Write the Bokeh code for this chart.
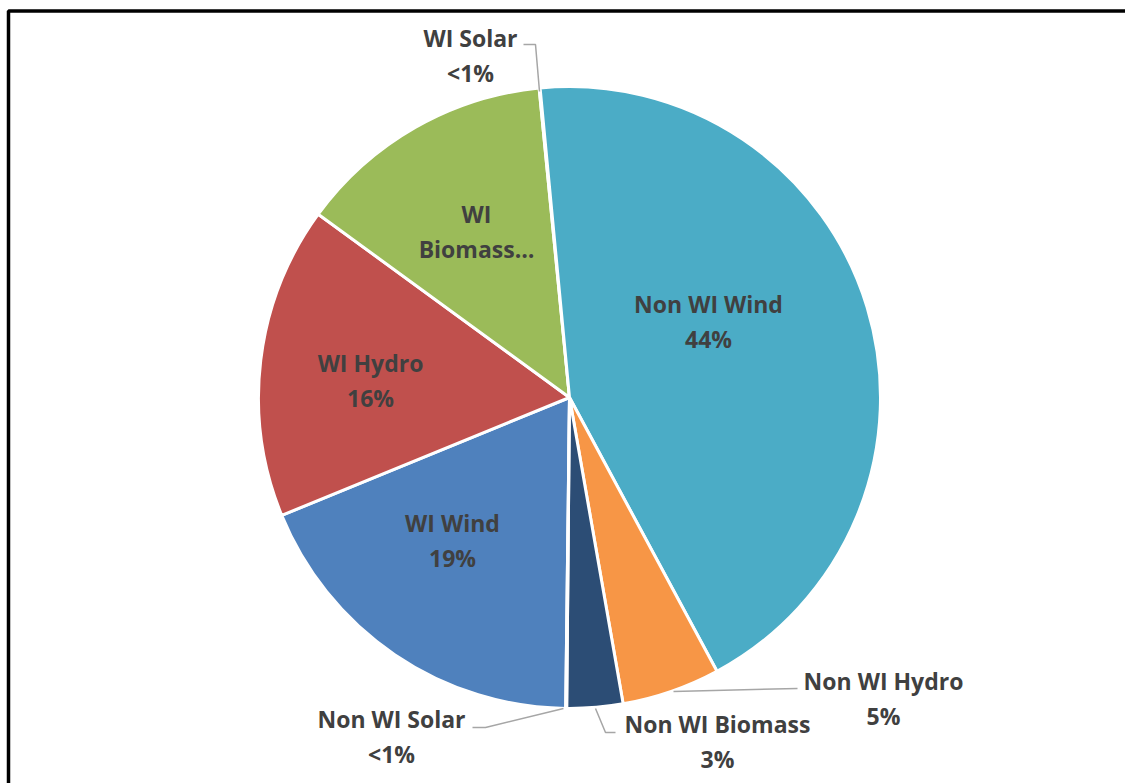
import math
from bokeh.plotting import figure
from bokeh.models import Range1d, ColumnDataSource
from bokeh.core.properties import value
from bokeh.embed import file_html
from bokeh.resources import INLINE

# ---- data (Excel series order) ----
categories = ["WI Wind", "WI Hydro", "WI Biomass", "WI Solar",
              "Non WI Wind", "Non WI Hydro", "Non WI Biomass", "Non WI Solar"]
shares = [18.6, 16.2, 13.4, 0.05, 43.6, 5.1, 2.9, 0.05]
label_names = ["WI Wind", "WI Hydro", "WI\nBiomass…", "WI Solar",
               "Non WI Wind", "Non WI Hydro", "Non WI Biomass", "Non WI Solar"]
colors = ["#4F81BD", "#C0504D", "#9BBB59", "#8064A2",
          "#4BACC6", "#F79646", "#2C4D75", "#772C2A"]

# ---- layout ----
W, H = 1125, 783
CX, CY, R = 569, 397, 311          # pixel coords (y from top)
FIRST_SLICE_ANGLE = 180.7          # degrees clockwise from 12 o'clock

# label centre positions in pixels (x, y from top)
label_pos = {
    "WI Wind": (452, 540), "WI Hydro": (370, 380), "WI Biomass": (476, 231),
    "WI Solar": (470, 55), "Non WI Wind": (708, 321), "Non WI Hydro": (883, 698),
    "Non WI Biomass": (717, 741), "Non WI Solar": (391, 736),
}
leaders = {
    "WI Solar": [(523, 44), (535, 44), (539, 91)],
    "Non WI Solar": [(472, 727), (485, 727), (563, 708)],
    "Non WI Biomass": [(595, 708), (605, 732), (615, 732)],
    "Non WI Hydro": [(673, 691), (797, 688)],
}


def fy(y):
    return H - y


p = figure(width=W, height=H, x_range=Range1d(0, W), y_range=Range1d(0, H),
           x_axis_type=None, y_axis_type=None, toolbar_location=None,
           output_backend="svg", min_border=0, outline_line_color=None,
           background_fill_color="white", border_fill_color="white")
p.grid.visible = False

total = sum(shares)
starts, ends = [], []
acc = FIRST_SLICE_ANGLE
for s in shares:
    a0 = acc
    a1 = acc + s / total * 360.0
    starts.append(math.radians(90 - a0))
    ends.append(math.radians(90 - a1))
    acc = a1

src = ColumnDataSource(dict(x=[CX] * len(shares), y=[fy(CY)] * len(shares),
                            start=starts, end=ends, color=colors, cat=categories))
p.wedge(x="x", y="y", radius=R, start_angle="start", end_angle="end",
        direction="clock", fill_color="color", line_color="white",
        line_width=3, source=src)

# leader lines
for cat, pts in leaders.items():
    p.line([q[0] for q in pts], [fy(q[1]) for q in pts],
           line_color="#A6A6A6", line_width=1.5)

# labels
FONT = value("Open Sans")
for cat, name, s in zip(categories, label_names, shares):
    x, y = label_pos[cat]
    pct = "<1%" if s < 0.5 else f"{round(s)}%"
    if cat == "WI Biomass":
        lines = name.split("\n")
    else:
        lines = [name, pct]
    n = len(lines)
    for i, t in enumerate(lines):
        yy = y + (i - (n - 1) / 2) * 35
        p.text(x=[x], y=[fy(yy)], text=[t], text_font=FONT,
               text_font_style="bold", text_font_size="23px",
               text_color="#404040", text_align="center",
               text_baseline="middle")

# chart border (extends beyond the visible window right/bottom)
p.quad(left=[8], right=[W + 50], top=[fy(10.5)], bottom=[-50],
       fill_color=None, line_color="black", line_width=3.5)

open("out.html", "w").write(file_html(p, INLINE))
